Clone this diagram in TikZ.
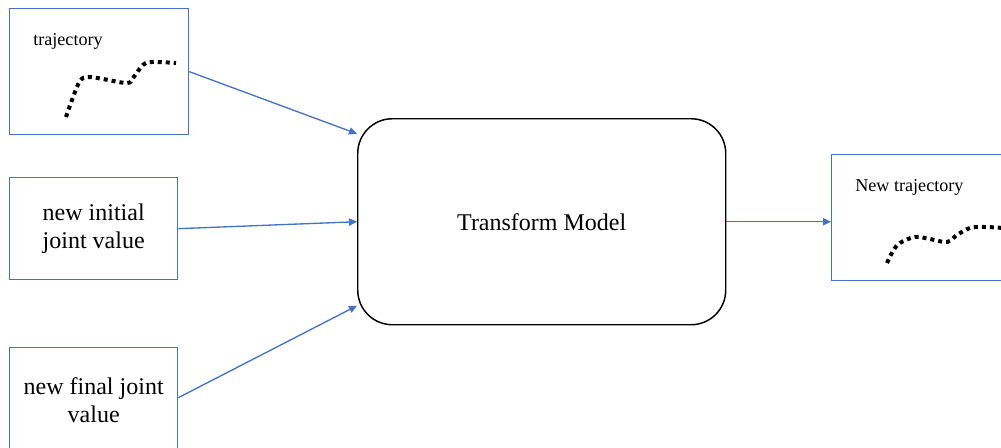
\documentclass[tikz,border=0pt]{standalone}
\usepackage{fontspec}
\setmainfont{Liberation Serif}
\usetikzlibrary{arrows.meta}
\definecolor{edgeblue}{HTML}{4472C4}

\begin{document}
\begin{tikzpicture}[x=0.75pt,y=-0.75pt,
  box/.style={draw=edgeblue, line width=1pt, inner sep=0pt, anchor=north west},
  flow/.style={draw=edgeblue, line width=1pt, -{Triangle[length=6pt,width=5.5pt]}},
  trace/.style={black, line width=3pt, dash pattern=on 3pt off 3pt},
  bigtext/.style={font=\fontsize{18}{21}\selectfont, align=center},
  smalltext/.style={font=\fontsize{13.6}{16}\selectfont, inner sep=0pt, anchor=base west}
]
\useasboundingbox (0,0) rectangle (1001,447);

% input: trajectory
\node[box, minimum width=134.25pt, minimum height=94.5pt] (traj) at (9,8) {};
\node[smalltext] (trajlabel) at (33,45) {trajectory};
\draw[trace] plot[smooth, tension=0.6] coordinates
  {(66,117) (72,100) (80,81) (88,77) (103,79) (127,83) (133,78) (143,65) (152,62) (176,63)};

% input: new initial joint value
\node[box, bigtext, minimum width=126pt, minimum height=76.5pt] (init) at (9,177)
  {new initial\\joint value};

% input: new final joint value
\node[box, bigtext, minimum width=126pt, minimum height=78pt] (final) at (9,347)
  {new final joint\\value};

% model
\node[draw=black, line width=1.1pt, rounded corners=26pt, inner sep=0pt, anchor=north west,
  minimum width=276pt, minimum height=154.5pt, bigtext] (model) at (357,118) {Transform Model};

% output: new trajectory
\node[box, minimum width=134.25pt, minimum height=94.5pt] (newtraj) at (831,154) {};
\node[smalltext] (newlabel) at (855,191) {New trajectory};
\draw[trace] plot[smooth, tension=0.6] coordinates
  {(887,263) (893,251) (900,243) (915,237) (930,239) (947,242) (957,235) (970,228) (985,227) (1003,228)};

% connectors
\draw[flow] (traj.east) -- ([yshift=66pt]model.west);
\draw[flow] (init.east) -- (model.west);
\draw[flow] ([yshift=1.5pt]final.east) -- ([yshift=-63pt]model.west);
\draw[flow] (model.east) -- (model.east -| newtraj.west);
\end{tikzpicture}
\end{document}
